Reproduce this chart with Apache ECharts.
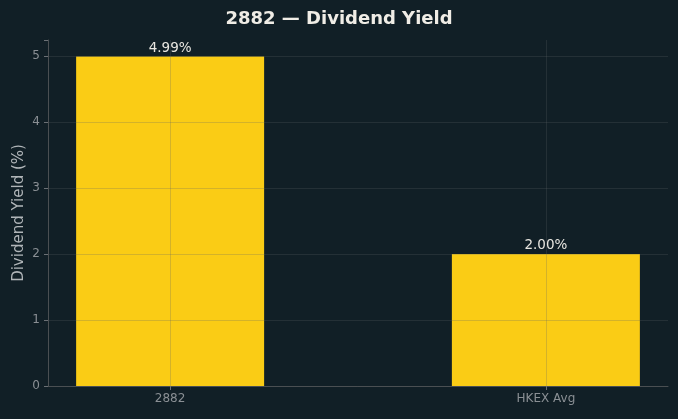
<!DOCTYPE html>
<html>
<head>
<meta charset="utf-8">
<script src="https://cdn.jsdelivr.net/npm/echarts@6/dist/echarts.min.js"></script>
<style>
  html, body { margin: 0; padding: 0; background: #111f26; }
  #chart { width: 678px; height: 419px; }
</style>
</head>
<body>
<div id="chart"></div>
<script>
var categories = ['2882', 'HKEX Avg'];
var yields = [4.99, 2.00];
var yTicks = [0, 1, 2, 3, 4, 5];

var myChart = echarts.init(document.getElementById('chart'));

var gridColor = 'rgba(95,100,105,0.25)';
var font = 'DejaVu Sans';

// bars sit at x = 0, 1 on a value axis so the margins match the original
var barData = yields.map(function (v, i) { return [i, v]; });

var option = {
    backgroundColor: '#111f26',
    animation: false,
    title: {
        text: '2882 — Dividend Yield',
        left: 'center',
        top: 5,
        textStyle: { color: '#f0ede6', fontSize: 18, fontWeight: 'bold', fontFamily: font }
    },
    grid: { left: 48, right: 10, top: 40, bottom: 33, outerBoundsMode: 'none' },
    xAxis: {
        type: 'value',
        min: -0.325,
        max: 1.325,
        z: 5,
        axisLine: { show: true, onZero: false, lineStyle: { color: '#4a4f52' } },
        axisTick: {
            show: true, length: 4, customValues: [0, 1],
            lineStyle: { color: '#6b7075' }
        },
        axisLabel: {
            customValues: [0, 1],
            color: '#8a8f94', fontSize: 12, fontFamily: font, margin: 7,
            formatter: function (v) { return categories[Math.round(v)]; }
        },
        splitLine: { show: true, lineStyle: { color: gridColor, width: 1 } }
    },
    yAxis: {
        type: 'value',
        min: 0,
        max: 5.24,
        interval: 1,
        z: 5,
        name: 'Dividend Yield (%)',
        nameLocation: 'middle',
        nameGap: 21,
        nameMoveOverlap: false,
        nameTextStyle: { color: '#b0b5b8', fontSize: 15, fontFamily: font },
        axisLine: { show: true, onZero: false, lineStyle: { color: '#4a4f52' } },
        axisTick: { show: true, length: 4, lineStyle: { color: '#6b7075' } },
        axisLabel: {
            customValues: yTicks,
            color: '#8a8f94', fontSize: 12, fontFamily: font, margin: 8
        },
        splitLine: {
            show: true, showMinLine: false, showMaxLine: false,
            lineStyle: { color: gridColor, width: 1 }
        }
    },
    series: [{
        type: 'bar',
        data: barData,
        barWidth: 188,
        itemStyle: { color: '#facc15' },
        label: {
            show: true,
            position: 'top',
            distance: 1,
            color: '#e8e6e0',
            fontSize: 13.5,
            fontFamily: font,
            formatter: function (p) { return p.value[1].toFixed(2) + '%'; }
        }
    }]
};

myChart.setOption(option);
</script>
</body>
</html>
